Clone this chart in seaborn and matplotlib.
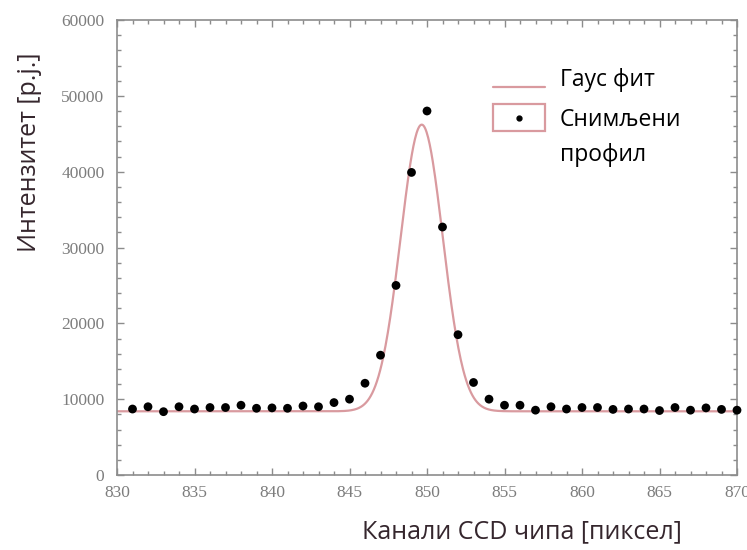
import numpy as np
import pandas as pd
import seaborn as sns
import matplotlib
matplotlib.use("Agg")
import matplotlib.pyplot as plt
from matplotlib.lines import Line2D
from matplotlib.patches import Rectangle
from matplotlib.ticker import MultipleLocator

# Measured line profile on the CCD chip (channel -> intensity)
channels = list(range(831, 871))
intensity = [
    8700, 9000, 8350, 9000, 8700, 8900, 8900, 9200, 8800, 8850,
    8800, 9100, 9000, 9550, 10000, 12100, 15800, 25000, 39900, 48000,
    32700, 18500, 12200, 10000, 9200, 9200, 8550, 9000, 8700, 8900,
    8900, 8650, 8700, 8700, 8500, 8900, 8550, 8850, 8650, 8550,
]

# Gaussian fit parameters
fit_baseline = 8400
fit_amplitude = 37800
fit_center = 849.66
fit_sigma = 1.36

x_ticks = [830, 835, 840, 845, 850, 855, 860, 865, 870]
y_ticks = [0, 10000, 20000, 30000, 40000, 50000, 60000]

label_fit = "Гаус фит"
label_data = "Снимљени\nпрофил"
xlabel = "Канали CCD чипа [пиксел]"
ylabel = "Интензитет [p.j.]"

sns.set_theme(style="ticks")
plt.rcParams["font.family"] = ["Open Sans", "DejaVu Sans"]

frame_c = "#8c8c8c"
fit_c = "#d99a9f"
text_c = "#35262d"


class LineHandler:
    """Legend key: short fit line, set slightly below the text centre."""

    def __init__(self, drop):
        self.drop = drop

    def legend_artist(self, legend, orig_handle, fontsize, handlebox):
        x0, y0 = handlebox.xdescent, handlebox.ydescent
        w, h = handlebox.width, handlebox.height
        yc = y0 + h / 2 - self.drop
        line = Line2D([x0, x0 + w], [yc, yc], color=fit_c, linewidth=1.6,
                      transform=handlebox.get_transform())
        handlebox.add_artist(line)
        return line


class BoxDotHandler:
    """Legend key: framed box with a dot, aligned with the first text line."""

    def __init__(self, box_height, lift):
        self.box_height = box_height
        self.lift = lift

    def legend_artist(self, legend, orig_handle, fontsize, handlebox):
        x0, y0 = handlebox.xdescent, handlebox.ydescent
        w, h = handlebox.width, handlebox.height
        yc = y0 + h / 2 + self.lift
        rect = Rectangle((x0, yc - self.box_height / 2), w, self.box_height,
                         facecolor="none", edgecolor=fit_c, linewidth=1.6,
                         transform=handlebox.get_transform())
        dot = Line2D([x0 + w / 2], [yc], color="black", marker="o",
                     markersize=3.5, linestyle="none",
                     transform=handlebox.get_transform())
        handlebox.add_artist(rect)
        handlebox.add_artist(dot)
        return rect


fig = plt.figure(figsize=(7.47, 5.5), dpi=100)
ax = fig.add_axes([117 / 747, 1 - 475 / 550, 620 / 747, 455 / 550])

xs = np.linspace(830, 870, 800)
fit_df = pd.DataFrame({
    "x": xs,
    "y": fit_baseline + fit_amplitude * np.exp(-(xs - fit_center) ** 2 / (2 * fit_sigma ** 2)),
})
data_df = pd.DataFrame({"x": channels, "y": intensity})

sns.lineplot(data=fit_df, x="x", y="y", ax=ax, color=fit_c, linewidth=1.6, zorder=2)
sns.scatterplot(data=data_df, x="x", y="y", ax=ax, color="black", s=40,
                edgecolor="none", zorder=3, clip_on=False)

ax.set_xlim(830, 870)
ax.set_ylim(0, 60000)
ax.set_xticks(x_ticks)
ax.set_yticks(y_ticks)
ax.set_xticklabels([str(t) for t in x_ticks])
ax.set_yticklabels([str(t) for t in y_ticks])
ax.xaxis.set_minor_locator(MultipleLocator(1))
ax.yaxis.set_minor_locator(MultipleLocator(2000))
ax.set_xlabel("")
ax.set_ylabel("")

for side in ax.spines.values():
    side.set_visible(True)
    side.set_color(frame_c)
    side.set_linewidth(1.2)

ax.tick_params(which="both", direction="in", top=True, right=True,
               color=frame_c, width=1.0)
ax.tick_params(which="major", length=5)
ax.tick_params(which="minor", length=3)
ax.tick_params(axis="x", which="major", pad=7)
ax.tick_params(axis="y", which="major", pad=9)
for lab in ax.get_xticklabels() + ax.get_yticklabels():
    lab.set_fontfamily("Liberation Serif")
    lab.set_fontsize(12.5)
    lab.set_color("#7d7d7d")

fig.text(522 / 747, 1 - 532 / 550, xlabel, ha="center", va="center",
         fontsize=18, color=text_c)
fig.text(30 / 747, 1 - 152 / 550, ylabel, ha="center", va="center",
         rotation=90, fontsize=18, color=text_c)

h_fit = object()
h_data = object()
leg = ax.legend([h_fit, h_data], [label_fit, label_data],
                handler_map={h_fit: LineHandler(drop=6.5),
                             h_data: BoxDotHandler(box_height=19.5, lift=14.7)},
                loc="upper left", bbox_to_anchor=(0.606, 0.895), frameon=False,
                borderpad=0, borderaxespad=0,
                fontsize=16.5, handlelength=2.27,
                handletextpad=0.65, labelspacing=0.7)
for t in leg.get_texts():
    t.set_color("black")
    t.set_linespacing(1.6)

fig.savefig("out.png", dpi=100)
